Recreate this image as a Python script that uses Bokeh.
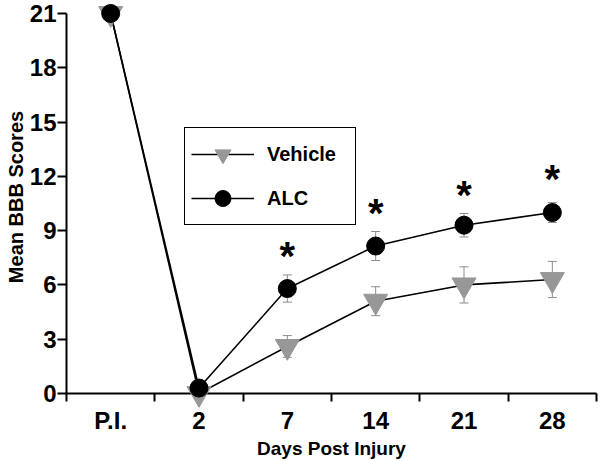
from bokeh.plotting import figure
from bokeh.models import (Range1d, FixedTicker, Whisker, TeeHead, ColumnDataSource,
                          Legend, LegendItem)
from bokeh.core.properties import value
from bokeh.embed import file_html
from bokeh.resources import INLINE

# ---- data ----
categories = ["P.I.", "2", "7", "14", "21", "28"]
vehicle_mean = [21.0, 0.0, 2.6, 5.1, 6.0, 6.3]
vehicle_err = [0.0, 0.0, 0.6, 0.8, 1.0, 1.0]
alc_mean = [21.0, 0.3, 5.8, 8.15, 9.3, 10.0]
alc_err = [0.0, 0.0, 0.75, 0.8, 0.65, 0.55]
star_categories = ["7", "14", "21", "28"]
star_y = [7.95, 10.3, 11.3, 12.2]
y_ticks = [0, 3, 6, 9, 12, 15, 18, 21]

FONT = "Liberation Sans"
GRAY = "#979797"
ERR = "#8c8c8c"

xpos = [i + 0.5 for i in range(len(categories))]
boundaries = list(range(len(categories) + 1))

p = figure(width=600, height=461, output_backend="svg", toolbar_location=None,
           x_range=Range1d(0, len(categories)), y_range=Range1d(0, 21.717),
           min_border_left=66, min_border_right=4, min_border_top=0,
           min_border_bottom=67)
p.grid.visible = False
p.outline_line_color = None

# y axis
ya = p.yaxis[0]
ya.ticker = FixedTicker(ticks=y_ticks)
ya.bounds = (0, 21)
ya.axis_line_width = 2
ya.major_tick_line_width = 2
ya.major_tick_out = 9
ya.major_tick_in = 0
ya.minor_tick_out = 0
ya.minor_tick_in = 0
ya.major_label_standoff = 1
ya.major_label_text_font = FONT
ya.major_label_text_font_style = "bold"
ya.major_label_text_font_size = "24px"
ya.major_label_text_color = "black"
ya.axis_label = "Mean BBB Scores"
ya.axis_label_text_font = FONT
ya.axis_label_text_font_style = "bold"
ya.axis_label_text_font_size = "20px"
ya.axis_label_text_color = "black"
ya.axis_label_standoff = 0

# x axis (labels centred in categories, ticks on the boundaries)
xa = p.xaxis[0]
xa.ticker = FixedTicker(ticks=xpos, minor_ticks=boundaries)
xa.major_label_overrides = {x: c for x, c in zip(xpos, categories)}
xa.axis_line_width = 2
xa.major_tick_out = 0
xa.major_tick_in = 0
xa.minor_tick_out = 8
xa.minor_tick_in = 0
xa.minor_tick_line_width = 2
xa.minor_tick_line_color = "black"
xa.major_label_standoff = 5
xa.major_label_text_font = FONT
xa.major_label_text_font_style = "bold"
xa.major_label_text_font_size = "24px"
xa.major_label_text_color = "black"
xa.axis_label = "Days Post Injury"
xa.axis_label_text_font = FONT
xa.axis_label_text_font_style = "bold"
xa.axis_label_text_font_size = "19px"
xa.axis_label_text_color = "black"
xa.axis_label_standoff = 1

# lines
vline = p.line(xpos, vehicle_mean, line_color="black", line_width=1.6)
aline = p.line(xpos, alc_mean, line_color="black", line_width=1.6)

# error bars
def err_source(means, errs):
    xs, up, lo = [], [], []
    for x, m, e in zip(xpos, means, errs):
        if e > 0:
            xs.append(x); up.append(m + e); lo.append(m - e)
    return ColumnDataSource(dict(x=xs, upper=up, lower=lo))

for means, errs in ((vehicle_mean, vehicle_err), (alc_mean, alc_err)):
    w = Whisker(source=err_source(means, errs), base="x", upper="upper", lower="lower",
                line_color=ERR, line_width=1,
                upper_head=TeeHead(size=9, line_color=ERR, line_width=1),
                lower_head=TeeHead(size=9, line_color=ERR, line_width=1))
    p.add_layout(w)

# markers
vmark = p.scatter(xpos, vehicle_mean, marker="inverted_triangle", size=24,
                  fill_color=GRAY, line_color=GRAY, level="overlay")
amark = p.scatter(xpos, alc_mean, marker="circle", size=18,
                  fill_color="black", line_color="black", level="overlay")

# significance asterisks
star_x = [xpos[categories.index(c)] for c in star_categories]
p.text(x=star_x, y=star_y, text=["*"] * len(star_x), text_font=value(FONT),
       text_font_style="bold", text_font_size="40px", text_align="center",
       text_baseline="alphabetic", y_offset=6, text_color="black")

legend = Legend(items=[LegendItem(label="Vehicle", renderers=[vline, vmark]),
                       LegendItem(label="ALC", renderers=[aline, amark])],
                location=(118, 168), orientation="vertical",
                glyph_width=63, glyph_height=40, spacing=4, padding=6,
                label_standoff=13, label_width=82, margin=0,
                label_text_font=FONT, label_text_font_style="bold",
                label_text_font_size="20px", label_text_color="black",
                border_line_color="black", border_line_width=1.5,
                border_line_alpha=1,
                background_fill_color="white", background_fill_alpha=1)
p.add_layout(legend, "center")

open("out.html", "w").write(file_html(p, INLINE))
